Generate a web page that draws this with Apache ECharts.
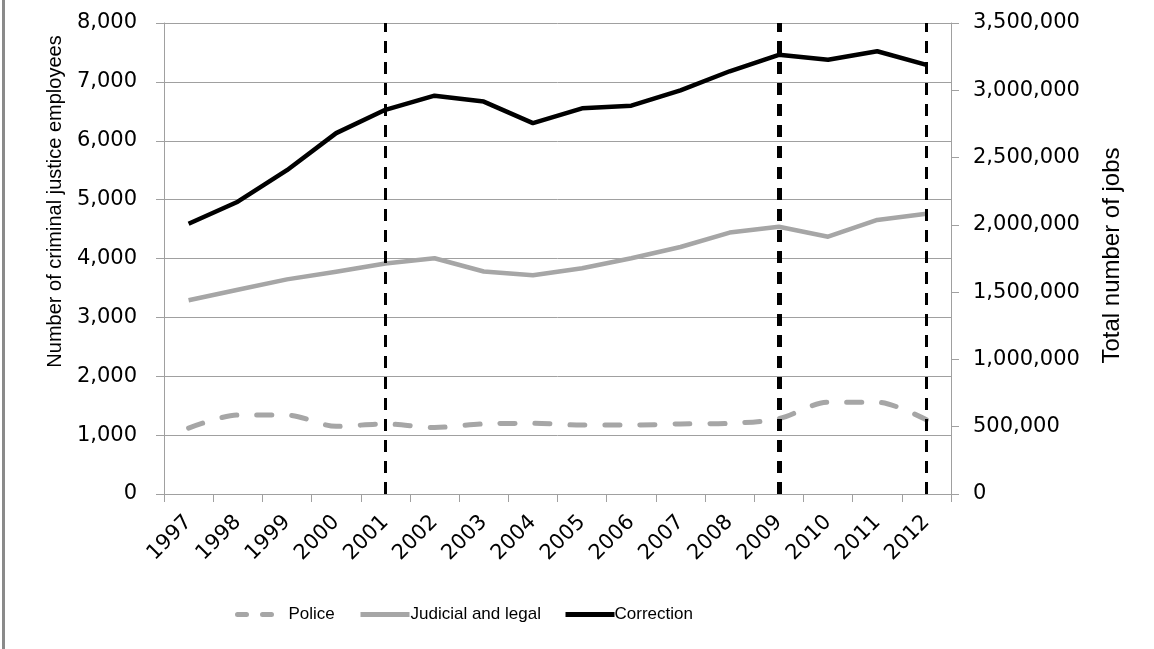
<!DOCTYPE html>
<html>
<head>
<meta charset="utf-8">
<script src="https://cdn.jsdelivr.net/npm/echarts@6/dist/echarts.min.js"></script>
<style>
  html, body { margin: 0; padding: 0; background: #fff; }
  #chart { width: 1154px; height: 649px; }
</style>
</head>
<body>
<div id="chart"></div>
<script>
const years = ['1997','1998','1999','2000','2001','2002','2003','2004','2005','2006','2007','2008','2009','2010','2011','2012'];
const police = [1120, 1340, 1340, 1150, 1190, 1130, 1190, 1200, 1170, 1170, 1190, 1200, 1280, 1560, 1560, 1260];
const judicial = [3290, 3470, 3645, 3775, 3915, 4005, 3780, 3715, 3835, 4005, 4195, 4440, 4540, 4370, 4655, 4760];
const correction = [4590, 4965, 5500, 6130, 6525, 6765, 6665, 6300, 6550, 6595, 6855, 7180, 7460, 7375, 7520, 7290];
const leftTicks = { min: 0, max: 8000, interval: 1000 };
const rightTicks = { min: 0, max: 3500000, interval: 500000 };
const markerYears = ['2001', '2009', '2012'];

const gray = '#a6a6a6';
const axisGray = '#a0a0a0';
const tickFont = 'DejaVu Sans';
const legendFont = 'Liberation Sans';

function fmt(v) { return String(v).replace(/\B(?=(\d{3})+(?!\d))/g, ','); }

const hiddenSymbol = { color: 'rgba(0,0,0,0)', borderColor: 'rgba(0,0,0,0)', borderWidth: 0, opacity: 0 };

const chart = echarts.init(document.getElementById('chart'), null, { renderer: 'canvas' });
chart.setOption({
  animation: false,
  backgroundColor: '#fff',
  grid: { left: 164, right: 203, top: 23, bottom: 155, containLabel: false },
  graphic: [{ type: 'rect', left: 2, top: 0, shape: { width: 3, height: 649 }, style: { fill: '#8a8a8a' } }],
  legend: [
    { data: ['Police'], left: 230, top: 600, itemWidth: 38, itemHeight: 24,
      itemStyle: hiddenSymbol,
      textStyle: { fontFamily: legendFont, fontSize: 17, color: '#000', padding: [0, 0, 0, 8] },
      lineStyle: { type: [9, 16], width: 5, cap: 'round', color: gray } },
    { data: ['Judicial and legal'], left: 353, top: 600, itemWidth: 49, itemHeight: 24,
      itemStyle: hiddenSymbol,
      lineStyle: { width: 5, color: gray },
      textStyle: { fontFamily: legendFont, fontSize: 17, color: '#000', padding: [0, 0, 0, -4] } },
    { data: ['Correction'], left: 558, top: 600, itemWidth: 49, itemHeight: 24,
      itemStyle: hiddenSymbol,
      lineStyle: { width: 5, color: '#000' },
      textStyle: { fontFamily: legendFont, fontSize: 17, color: '#000', padding: [0, 0, 0, -5] } }
  ],
  xAxis: {
    type: 'category',
    data: years,
    boundaryGap: true,
    axisLine: { lineStyle: { color: axisGray, width: 1 } },
    axisTick: { show: true, alignWithLabel: false, length: 8, lineStyle: { color: axisGray } },
    axisLabel: { rotate: 45, margin: 25, fontFamily: tickFont, fontSize: 21, color: '#000', interval: 0 }
  },
  yAxis: [
    {
      type: 'value', position: 'left',
      min: leftTicks.min, max: leftTicks.max, interval: leftTicks.interval,
      name: 'Number of criminal justice employees', nameLocation: 'middle', nameGap: 95,
      nameTextStyle: { fontFamily: 'Liberation Sans', fontSize: 20, color: '#000', padding: [0, 0, 0, 114] },
      axisLine: { show: true, lineStyle: { color: axisGray } },
      axisTick: { show: true, length: 8, lineStyle: { color: axisGray } },
      axisLabel: { margin: 27, fontFamily: tickFont, fontSize: 21, color: '#000', formatter: fmt },
      splitLine: { show: true, lineStyle: { color: axisGray, width: 1 } }
    },
    {
      type: 'value', position: 'right',
      min: rightTicks.min, max: rightTicks.max, interval: rightTicks.interval,
      name: 'Total number of jobs', nameLocation: 'middle', nameGap: 149,
      nameTextStyle: { fontFamily: 'Liberation Sans', fontSize: 24, color: '#000', padding: [0, 0, 0, 6] },
      axisLine: { show: true, lineStyle: { color: axisGray } },
      axisTick: { show: true, length: 8, lineStyle: { color: axisGray } },
      axisLabel: { margin: 22, fontFamily: tickFont, fontSize: 21, color: '#000', formatter: fmt },
      splitLine: { show: false }
    }
  ],
  series: [
    {
      name: 'Police', type: 'line', data: police, yAxisIndex: 0,
      symbol: 'none', smooth: 0.3,
      lineStyle: { color: gray, width: 5, type: [15, 20], cap: 'round', join: 'round' },
      itemStyle: { color: gray }
    },
    {
      name: 'Judicial and legal', type: 'line', data: judicial, yAxisIndex: 0,
      symbol: 'none',
      lineStyle: { color: gray, width: 4.5, join: 'round' },
      itemStyle: { color: gray }
    },
    {
      name: 'Correction', type: 'line', data: correction, yAxisIndex: 0,
      symbol: 'none', z: 3,
      lineStyle: { color: '#000', width: 4.5, join: 'round' },
      itemStyle: { color: '#000' },
      markLine: {
        silent: true, symbol: 'none', label: { show: false },
        lineStyle: { color: '#000', width: 3, type: [12, 9] },
        data: markerYears.map(function (y) {
          return y === '2009' ? { xAxis: y, lineStyle: { width: 5 } } : { xAxis: y };
        })
      }
    }
  ]
});
</script>
</body>
</html>
